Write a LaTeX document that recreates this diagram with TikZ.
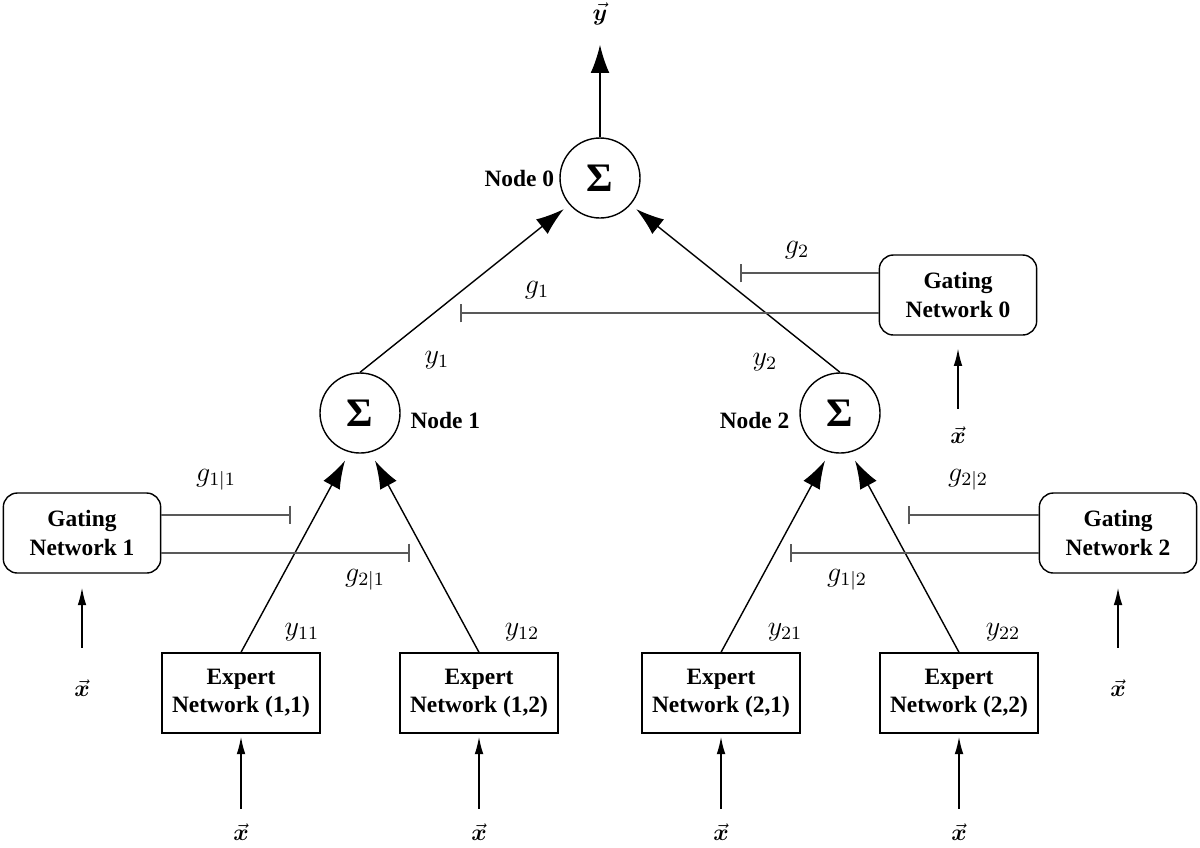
\documentclass[tikz,border=0pt]{standalone}
\usepackage{fontspec}
\setmainfont{Liberation Serif}
\usepackage{bm}
\usetikzlibrary{arrows.meta}

\begin{document}
\begin{tikzpicture}[x=0.015cm,y=-0.015cm,
  sumnode/.style={circle,draw,line width=0.6pt,minimum size=1.2cm,inner sep=0pt,font=\LARGE\bfseries},
  gatebox/.style={draw,line width=0.6pt,rounded corners=6pt,minimum width=2.36cm,minimum height=1.2cm,align=center,font=\bfseries},
  expertbox/.style={draw,line width=0.6pt,minimum width=2.37cm,minimum height=1.2cm,align=center,font=\bfseries},
  nodelabel/.style={font=\bfseries,inner sep=2pt},
  siglabel/.style={font=\large,inner sep=1pt},
  bigarrow/.style={line width=0.6pt,-{Latex[length=0.42cm,width=0.28cm]}},
  smallarrow/.style={line width=0.6pt,-{Latex[length=0.26cm,width=0.13cm]}},
  gateline/.style={draw=black!65,line width=0.9pt,-{Bar[width=0.28cm]}}]
\useasboundingbox (0,0) rectangle (1200,847);

% summing nodes
\node[sumnode] (n0) at (600,178) {Σ};
\node[sumnode] (n1) at (360,413) {Σ};
\node[sumnode] (n2) at (840,413) {Σ};
\node[nodelabel,anchor=east] (lab0) at (n0.west) {Node 0};
\node[nodelabel,anchor=west,xshift=2pt,yshift=-3pt] (lab1) at (n1.east) {Node 1};
\node[nodelabel,anchor=east,xshift=-2pt,yshift=-3pt] (lab2) at (n2.west) {Node 2};

% gating and expert networks
\node[gatebox] (gate0) at (958,295) {Gating\\Network 0};
\node[gatebox] (gate1) at (82,533) {Gating\\Network 1};
\node[gatebox] (gate2) at (1118,533) {Gating\\Network 2};
\foreach \i/\j/\xpos in {1/1/241,1/2/479,2/1/721,2/2/959}
  \node[expertbox] (exp\i\j) at (\xpos,693) {Expert\\Network (\i,\j)};

% inputs and output
\node (yout) at (600,14) {$\vec{\bm{y}}$};
\node (xg0) at (958,435) {$\vec{\bm{x}}$};
\node (xg1) at (82,688) {$\vec{\bm{x}}$};
\node (xg2) at (1118,688) {$\vec{\bm{x}}$};
\foreach \i/\j/\xpos in {1/1/241,1/2/479,2/1/721,2/2/959}
  \node (x\i\j) at (\xpos,832) {$\vec{\bm{x}}$};

\draw[bigarrow,shorten >=5pt] (n0) -- (yout);
\draw[smallarrow,shorten <=4pt,shorten >=5.5pt] (xg0) -- (gate0);
\draw[smallarrow,shorten <=10pt,shorten >=6pt] (xg1) -- (gate1);
\draw[smallarrow,shorten <=10pt,shorten >=6pt] (xg2) -- (gate2);
\foreach \i/\j in {1/1,1/2,2/1,2/2}
  \draw[smallarrow,shorten <=2.8pt,shorten >=1.3pt] (x\i\j) -- (exp\i\j);

% expert outputs into nodes
\draw[bigarrow,shorten >=4pt] (exp11.north) -- (n1.255);
\draw[bigarrow,shorten >=4pt] (exp12.north) -- (n1.285);
\draw[bigarrow,shorten >=4pt] (exp21.north) -- (n2.255);
\draw[bigarrow,shorten >=4pt] (exp22.north) -- (n2.285);
\draw[bigarrow,shorten >=3pt] (n1.north) -- (n0.221);
\draw[bigarrow,shorten >=3pt] (n2.north) -- (n0.319);

% gate outputs
\coordinate (g2end) at (740,273);
\coordinate (g1end) at (460,313);
\coordinate (g11end) at (291,515);
\coordinate (g21end) at (410,553);
\coordinate (g22end) at (908,515);
\coordinate (g12end) at (790,553);
\draw[gateline] (gate0.west |- g2end) -- (g2end);
\draw[gateline] (gate0.west |- g1end) -- (g1end);
\draw[gateline] (gate1.east |- g11end) -- (g11end);
\draw[gateline] (gate1.east |- g21end) -- (g21end);
\draw[gateline] (gate2.west |- g22end) -- (g22end);
\draw[gateline] (gate2.west |- g12end) -- (g12end);

% signal labels
\node[siglabel] (ly1) at (437,360) {$y_1$};
\node[siglabel] (ly2) at (765,362) {$y_2$};
\node[siglabel] (lg1) at (537,290) {$g_1$};
\node[siglabel] (lg2) at (797,250) {$g_2$};
\node[siglabel] (lg11) at (216,480) {$g_{1|1}$};
\node[siglabel] (lg21) at (365,580) {$g_{2|1}$};
\node[siglabel] (lg22) at (968,480) {$g_{2|2}$};
\node[siglabel] (lg12) at (847,580) {$g_{1|2}$};
\node[siglabel] (ly11) at (302,632) {$y_{11}$};
\node[siglabel] (ly12) at (522,632) {$y_{12}$};
\node[siglabel] (ly21) at (785,632) {$y_{21}$};
\node[siglabel] (ly22) at (1003,632) {$y_{22}$};
\end{tikzpicture}
\end{document}
